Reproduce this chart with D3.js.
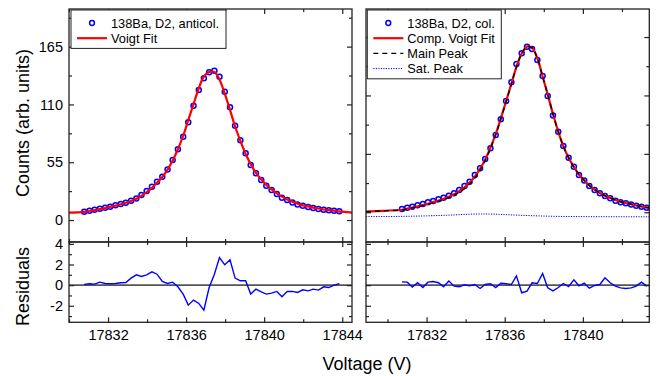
<!DOCTYPE html>
<html>
<head>
<meta charset="utf-8">
<script src="https://cdn.jsdelivr.net/npm/d3@7"></script>
<style>
  body { margin: 0; background: #fff; }
  svg { display: block; font-family: "Liberation Sans", Arial, sans-serif; }
</style>
</head>
<body>
<svg id="chart" width="660" height="376"></svg>
<script>
// ---- anticollinear (left panel) ----
const antiVolt = [17830.78, 17831.05, 17831.31, 17831.58, 17831.85, 17832.11, 17832.38, 17832.65, 17832.91, 17833.18,
  17833.45, 17833.71, 17833.98, 17834.25, 17834.51, 17834.78, 17835.05, 17835.31, 17835.58, 17835.85,
  17836.11, 17836.38, 17836.65, 17836.91, 17837.18, 17837.45, 17837.71, 17837.98, 17838.25, 17838.51,
  17838.78, 17839.05, 17839.31, 17839.58, 17839.85, 17840.11, 17840.38, 17840.65, 17840.91, 17841.18,
  17841.45, 17841.71, 17841.98, 17842.25, 17842.51, 17842.78, 17843.05, 17843.31, 17843.58, 17843.85];
const antiCounts = [7.9, 8.9, 9.8, 10.8, 11.7, 12.7, 14.0, 15.2, 16.5, 18.4,
  20.6, 23.8, 27.6, 31.7, 36.4, 41.2, 48.2, 57.1, 67.3, 79.3,
  93.0, 108.8, 123.7, 134.8, 140.6, 142.0, 136.4, 122.1, 107.2, 89.7,
  75.8, 63.5, 52.3, 44.4, 38.1, 32.6, 28.5, 24.7, 21.2, 19.0,
  16.8, 14.9, 13.6, 12.4, 11.4, 10.5, 9.8, 9.2, 8.9, 8.3];
const antiResid = [0.06, 0.13, 0.10, 0.29, 0.16, 0.13, 0.16, 0.23, 0.26, 0.68,
  1.00, 0.84, 1.00, 1.29, 1.06, 0.35, 0.16, 0.29, -0.16, -0.87,
  -1.94, -1.45, -1.77, -2.42, -0.23, 1.06, 2.68, 1.97, 2.45, 0.68,
  0.42, 0.42, -0.87, -0.39, -0.65, -0.87, -0.77, -0.61, -1.13, -0.61,
  -0.61, -0.71, -0.45, -0.55, -0.39, -0.48, -0.16, -0.23, 0.00, 0.13];
const antiFitVolt = [17830.0, ...antiVolt, 17844.5];
const antiFit = [7.0, 7.8, 8.6, 9.5, 10.4, 11.4, 12.5, 13.7, 15.0, 16.5, 18.2,
  20.3, 23.0, 26.5, 30.6, 35.5, 41.0, 48.0, 56.7, 67.4, 80.2,
  95.0, 110.3, 125.4, 136.6, 140.8, 140.8, 133.8, 120.2, 104.8, 89.0,
  75.4, 63.1, 53.2, 44.8, 38.7, 33.4, 29.2, 25.3, 22.3, 19.6,
  17.4, 15.6, 14.0, 12.9, 11.8, 11.0, 10.0, 9.4, 8.9, 8.2, 7.1];

// ---- collinear (right panel) ----
const colVolt = [17830.74, 17831.01, 17831.27, 17831.54, 17831.81, 17832.07, 17832.34, 17832.61, 17832.87, 17833.14,
  17833.41, 17833.67, 17833.94, 17834.20, 17834.47, 17834.74, 17835.00, 17835.27, 17835.54, 17835.80,
  17836.07, 17836.34, 17836.60, 17836.87, 17837.14, 17837.40, 17837.67, 17837.94, 17838.20, 17838.47,
  17838.74, 17839.00, 17839.27, 17839.54, 17839.80, 17840.07, 17840.33, 17840.60, 17840.87, 17841.13,
  17841.40, 17841.67, 17841.93, 17842.20, 17842.47, 17842.73, 17843.00, 17843.27];
const colCounts = [3.1, 4.3, 5.3, 6.6, 7.8, 9.4, 10.6, 12.2, 13.7, 15.6,
  17.9, 21.0, 24.8, 28.8, 35.1, 41.4, 50.2, 60.3, 72.8, 87.6,
  104.8, 122.4, 139.6, 149.7, 155.9, 153.8, 143.4, 128.3, 109.5, 91.0,
  75.9, 62.4, 51.4, 42.9, 35.1, 29.8, 24.8, 21.0, 17.9, 15.3,
  13.2, 10.9, 9.4, 8.5, 7.2, 6.2, 5.3, 4.3];
const colResid = [0.32, 0.29, -0.19, 0.23, -0.23, 0.29, 0.35, 0.23, -0.16, 0.39,
  -0.10, -0.16, 0.03, -0.06, 0.06, -0.32, 0.06, 0.13, -0.23, 0.19,
  0.13, 0.06, 0.90, -0.74, -0.58, 0.23, 0.16, 1.13, -0.26, -0.55,
  -0.23, 0.16, -0.13, 0.52, -0.06, 0.19, -0.29, -0.03, 0.06, 0.71,
  0.23, -0.10, -0.26, -0.32, -0.26, -0.10, 0.29, -0.10];
const colFitVolt = [17828.9, 17829.8, ...colVolt, 17843.4];
const colFit = [0.6, 1.4, 2.4, 3.4, 4.4, 5.5, 6.7, 8.0, 9.5, 11.0, 12.7, 14.7,
  17.0, 19.9, 23.4, 27.9, 33.6, 40.8, 49.8, 60.9, 73.7, 88.4,
  104.5, 121.0, 137.0, 149.5, 156.0, 154.8, 145.0, 127.8, 111.0, 92.5,
  76.0, 62.3, 51.3, 42.6, 35.6, 30.0, 25.2, 21.3, 18.2, 15.6,
  13.4, 11.5, 9.9, 8.7, 7.5, 6.4, 5.4, 4.5, 4.2];
const colMain = [0.5, 1.3, 2.2, 3.2, 4.2, 5.2, 6.3, 7.5, 8.9, 10.3, 11.9, 13.8,
  16.0, 18.8, 22.2, 26.6, 32.3, 39.6, 48.7, 59.9, 72.9, 87.8,
  104.1, 120.7, 136.8, 149.4, 155.9, 154.8, 145.0, 127.8, 111.0, 92.5,
  76.0, 62.3, 51.3, 42.6, 35.6, 30.0, 25.2, 21.3, 18.2, 15.6,
  13.4, 11.5, 9.9, 8.7, 7.5, 6.4, 5.4, 4.5, 4.2];
const satVolt = [17828.9, 17830, 17831, 17832, 17833, 17834, 17834.8, 17835.5, 17836.5, 17837.5, 17838.5, 17840, 17841.5, 17843.4];
const satCounts = [-4.1, -4.0, -3.8, -3.4, -2.8, -2.0, -1.6, -1.8, -2.6, -3.3, -3.8, -4.1, -4.2, -4.3];

// ---- ticks ----
const countMajor = [0, 55, 110, 165];
const countMinor = [27.5, 82.5, 137.5, 192.5];
const residMajor = [-2, 0, 2, 4];
const residMinor = [-3, -1, 1, 3];
const voltMajor = [17832, 17836, 17840, 17844];
const voltMinor = [17830, 17834, 17838, 17842];

const svg = d3.select("#chart");
const FONT = '"Liberation Sans", Arial, sans-serif';
const topY0 = 9, midY = 242, botY = 322.3;

const xL = d3.scaleLinear().domain([17830.0, 17844.5]).range([69, 352]);
const xR = d3.scaleLinear().domain([17828.9, 17843.4]).range([366, 649.3]);
const yL = d3.scaleLinear().domain([-20.9, 200.8]).range([midY, topY0]);
const yR = d3.scaleLinear().domain([-28.0, 191.4]).range([midY, topY0]);
const yRes = d3.scaleLinear().domain([-3.6, 4.18]).range([botY, midY]);

function inDomain(scale) {
  const [a, b] = d3.extent(scale.domain());
  return v => v >= a - 1e-9 && v <= b + 1e-9;
}

function side(axisFn, scale, vals, size, labels, tx, ty) {
  const a = axisFn(scale)
    .tickValues(vals.filter(inDomain(scale)))
    .tickSizeInner(-size).tickSizeOuter(0).tickPadding(6)
    .tickFormat(labels ? d => String(d) : "");
  const g = svg.append("g").attr("transform", `translate(${tx},${ty})`).call(a);
  g.select(".domain").remove();
  g.selectAll("line").attr("stroke", "#222").attr("stroke-width", 1.2);
  g.selectAll("text").attr("font-family", FONT).attr("font-size", 14.5).attr("fill", "#000");
  return g;
}

function panelTicks(x, y, yMaj, yMin, y0, y1, xLabels, yLabels) {
  const [x0, x1] = x.range();
  side(d3.axisLeft, y, yMaj, 5, yLabels, x0, 0);
  side(d3.axisLeft, y, yMin, 3, false, x0, 0);
  side(d3.axisRight, y, yMaj, 5, false, x1, 0);
  side(d3.axisRight, y, yMin, 3, false, x1, 0);
  side(d3.axisTop, x, voltMajor, 5, false, 0, y0);
  side(d3.axisTop, x, voltMinor, 3, false, 0, y0);
  const b = side(d3.axisBottom, x, voltMajor, 5, xLabels, 0, y1);
  b.selectAll("text").attr("dy", "0.71em").attr("y", 7);
  side(d3.axisBottom, x, voltMinor, 3, false, 0, y1);
}

function clip(id, x, y0, y1) {
  const [x0, x1] = x.range();
  svg.append("clipPath").attr("id", id).append("rect")
    .attr("x", x0).attr("y", y0).attr("width", x1 - x0).attr("height", y1 - y0);
}

function drawPanel(opts) {
  const { x, y, id } = opts;
  const [x0, x1] = x.range();
  clip(id + "top", x, topY0, midY);
  clip(id + "res", x, midY, botY);

  const gTop = svg.append("g").attr("clip-path", `url(#${id}top)`);
  gTop.selectAll("circle").data(opts.volt).enter().append("circle")
    .attr("cx", d => x(d)).attr("cy", (d, i) => y(opts.counts[i])).attr("r", 2.5)
    .attr("fill", "none").attr("stroke", "#0000ff").attr("stroke-width", 1.5);

  const line = (xs, ys, curve) => d3.line().x((d, i) => x(xs[i])).y((d, i) => y(ys[i])).curve(curve)(xs);
  gTop.append("path").attr("d", line(opts.fitVolt, opts.fit, d3.curveCatmullRom))
    .attr("fill", "none").attr("stroke", "#ff0000").attr("stroke-width", 2.2);
  if (opts.main) {
    gTop.append("path").attr("d", line(opts.fitVolt, opts.main, d3.curveCatmullRom))
      .attr("fill", "none").attr("stroke", "#000").attr("stroke-width", 1.4).attr("stroke-dasharray", "5,4");
    gTop.append("path").attr("d", line(satVolt, satCounts, d3.curveMonotoneX))
      .attr("fill", "none").attr("stroke", "#0000ff").attr("stroke-width", 1).attr("stroke-dasharray", "1.2,1.3");
  }

  const gRes = svg.append("g").attr("clip-path", `url(#${id}res)`);
  gRes.append("line").attr("x1", x0).attr("x2", x1).attr("y1", yRes(0)).attr("y2", yRes(0))
    .attr("stroke", "#555").attr("stroke-width", 1.8);
  gRes.append("path")
    .attr("d", d3.line().x((d, i) => x(opts.volt[i])).y((d, i) => yRes(opts.resid[i]))(opts.volt))
    .attr("fill", "none").attr("stroke", "#0000ff").attr("stroke-width", 1.4);

  // frames
  svg.append("rect").attr("x", x0).attr("y", topY0).attr("width", x1 - x0).attr("height", midY - topY0)
    .attr("fill", "none").attr("stroke", "#222").attr("stroke-width", 1.3);
  svg.append("rect").attr("x", x0).attr("y", midY).attr("width", x1 - x0).attr("height", botY - midY)
    .attr("fill", "none").attr("stroke", "#222").attr("stroke-width", 1.3);

  panelTicks(x, y, countMajor, countMinor, topY0, midY, false, opts.labels);
  panelTicks(x, yRes, residMajor, residMinor, midY, botY, true, opts.labels);
}

drawPanel({ id: "pl", x: xL, y: yL, volt: antiVolt, counts: antiCounts, resid: antiResid,
  fitVolt: antiFitVolt, fit: antiFit, labels: true });
drawPanel({ id: "pr", x: xR, y: yR, volt: colVolt, counts: colCounts, resid: colResid,
  fitVolt: colFitVolt, fit: colFit, main: colMain, labels: false });

// legends
function legend(x0, y0, w, items) {
  const g = svg.append("g");
  g.append("rect").attr("x", x0).attr("y", y0).attr("width", w).attr("height", items.length * 15.2 + 8)
    .attr("fill", "#fff").attr("stroke", "#222").attr("stroke-width", 1);
  items.forEach((it, i) => {
    const cy = y0 + 13 + i * 15.2;
    if (it.type === "circle") {
      g.append("circle").attr("cx", x0 + 21).attr("cy", cy).attr("r", 2.4)
        .attr("fill", "none").attr("stroke", "#0000ff").attr("stroke-width", 1.5);
    } else {
      g.append("line").attr("x1", x0 + 6).attr("x2", x0 + 36).attr("y1", cy).attr("y2", cy)
        .attr("stroke", it.color).attr("stroke-width", it.width).attr("stroke-dasharray", it.dash || null);
    }
    g.append("text").attr("x", x0 + 40).attr("y", cy + 4.5).text(it.label)
      .attr("font-family", FONT).attr("font-size", 12.8).attr("fill", "#000");
  });
}
legend(71, 10, 155, [
  { type: "circle", label: "138Ba, D2, anticol." },
  { type: "line", color: "#ff0000", width: 2.2, label: "Voigt Fit" }
]);
legend(367.3, 10, 134, [
  { type: "circle", label: "138Ba, D2, col." },
  { type: "line", color: "#ff0000", width: 2.2, label: "Comp. Voigt Fit" },
  { type: "line", color: "#000", width: 1.4, dash: "5,4", label: "Main Peak" },
  { type: "line", color: "#0000ff", width: 1, dash: "1.2,1.3", label: "Sat. Peak" }
]);

// axis titles
svg.append("text").attr("transform", "translate(29,123) rotate(-90)").attr("text-anchor", "middle")
  .attr("font-family", FONT).attr("font-size", 18).text("Counts (arb. units)");
svg.append("text").attr("transform", "translate(29,286.5) rotate(-90)").attr("text-anchor", "middle")
  .attr("font-family", FONT).attr("font-size", 18).text("Residuals");
svg.append("text").attr("x", 367).attr("y", 370).attr("text-anchor", "middle")
  .attr("font-family", FONT).attr("font-size", 18).text("Voltage (V)");
</script>
</body>
</html>
